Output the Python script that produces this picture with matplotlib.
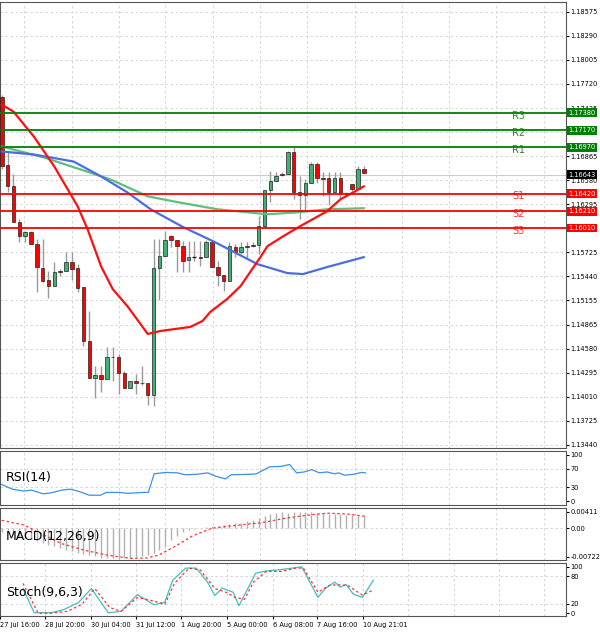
import matplotlib
matplotlib.use("Agg")
import matplotlib.pyplot as plt
import matplotlib.transforms as mtransforms
import numpy as np

# ---- candle data (open, high, low, close), hourly-ish bars
opens  = [1.17570, 1.16753, 1.16505, 1.16079, 1.15913, 1.15961, 1.15819, 1.15535, 1.15393, 1.15322,
          1.15499, 1.15499, 1.15606, 1.15535, 1.15310, 1.14671, 1.14233, 1.14269, 1.14222, 1.14482,
          1.14482, 1.14293, 1.14115, 1.14198, 1.14174, 1.14174, 1.14032, 1.15535, 1.15677, 1.15913,
          1.15866, 1.15795, 1.15629, 1.15665, 1.15665, 1.15665, 1.15842, 1.15547, 1.15452, 1.15381,
          1.15783, 1.15724, 1.15795, 1.15807, 1.15807, 1.16032, 1.16457, 1.16564, 1.16647, 1.16647,
          1.16907, 1.16434, 1.16398, 1.16540, 1.16765, 1.16599, 1.16599, 1.16434, 1.16599, 1.16422,
          1.16528, 1.16469, 1.16706]
highs  = [1.17593, 1.16907, 1.16647, 1.16114, 1.15972, 1.15972, 1.15878, 1.15878, 1.15499, 1.15606,
          1.15523, 1.15724, 1.15724, 1.15582, 1.15310, 1.15026, 1.14375, 1.14375, 1.14600, 1.14600,
          1.14517, 1.14316, 1.14198, 1.14281, 1.14375, 1.14174, 1.15878, 1.15878, 1.15972, 1.15925,
          1.15866, 1.15854, 1.15854, 1.15854, 1.15854, 1.15866, 1.15842, 1.15617, 1.15452, 1.15842,
          1.15819, 1.15842, 1.15842, 1.15842, 1.16150, 1.16457, 1.16682, 1.16670, 1.16670, 1.16930,
          1.16978, 1.16623, 1.16588, 1.16789, 1.16789, 1.16670, 1.16670, 1.16670, 1.16670, 1.16434,
          1.16528, 1.16741, 1.16741]
lows   = [1.16706, 1.16434, 1.16079, 1.15842, 1.15842, 1.15819, 1.15251, 1.15369, 1.15180, 1.15322,
          1.15440, 1.15499, 1.15393, 1.15251, 1.14612, 1.14233, 1.13997, 1.14068, 1.14222, 1.14198,
          1.14044, 1.14115, 1.14115, 1.14044, 1.14151, 1.13914, 1.13902, 1.15156, 1.15677, 1.15783,
          1.15487, 1.15487, 1.15487, 1.15617, 1.15558, 1.15665, 1.15547, 1.15322, 1.15263, 1.15381,
          1.15665, 1.15700, 1.15641, 1.15783, 1.15700, 1.16008, 1.16316, 1.16564, 1.16623, 1.16647,
          1.16351, 1.16114, 1.16197, 1.16540, 1.16540, 1.16387, 1.16280, 1.16434, 1.16363, 1.16410,
          1.16445, 1.16528, 1.16682]
closes = [1.16741, 1.16505, 1.16079, 1.15913, 1.15961, 1.15819, 1.15547, 1.15381, 1.15322, 1.15487,
          1.15490, 1.15606, 1.15523, 1.15298, 1.14671, 1.14233, 1.14269, 1.14222, 1.14482, 1.14478,
          1.14293, 1.14115, 1.14198, 1.14174, 1.14170, 1.14032, 1.15535, 1.15677, 1.15866, 1.15866,
          1.15795, 1.15617, 1.15665, 1.15662, 1.15660, 1.15842, 1.15547, 1.15452, 1.15381, 1.15795,
          1.15724, 1.15783, 1.15790, 1.15803, 1.16032, 1.16457, 1.16564, 1.16623, 1.16640, 1.16907,
          1.16434, 1.16398, 1.16540, 1.16765, 1.16599, 1.16595, 1.16434, 1.16599, 1.16422, 1.16418,
          1.16469, 1.16717, 1.16660]

ma_red_x = [0, 2, 5.5, 9, 13, 14.7, 17, 19, 21.5, 25, 27.2, 32.3, 34.4, 35.7, 38.6, 40.9,
            44.3, 45.5, 48.2, 51.1, 55.7, 58, 60.2, 62]
ma_red_y = [1.17475, 1.17392, 1.17096, 1.16741, 1.16268, 1.15996, 1.15558, 1.15286, 1.15085,
            1.14754, 1.14789, 1.14837, 1.14908, 1.15014, 1.15168, 1.15322, 1.15665, 1.15795,
            1.15913, 1.16032, 1.16209, 1.16351, 1.16434, 1.16505]
ma_green_x = [0, 7.2, 13.5, 18.6, 25, 29.4, 36.9, 45.5, 50.6, 55.7, 62]
ma_green_y = [1.16978, 1.16848, 1.16706, 1.16588, 1.16387, 1.16327, 1.16233, 1.16174, 1.16197,
              1.16233, 1.16245]
ma_blue_x = [0, 5.5, 12.3, 17, 21.5, 25.5, 31.1, 36.2, 43.8, 48.9, 51.6, 55.7, 62]
ma_blue_y = [1.16919, 1.16883, 1.16800, 1.16623, 1.16434, 1.16233, 1.16020, 1.15854, 1.15582,
             1.15476, 1.15464, 1.15547, 1.15665]

res_levels = [1.16970, 1.17170, 1.17380]
res_names = ["R1", "R2", "R3"]
sup_levels = [1.16420, 1.16210, 1.16010]
sup_names = ["S1", "S2", "S3"]
last_price = 1.16643

price_ticks = [1.13440, 1.13725, 1.14010, 1.14295, 1.14580, 1.14865, 1.15155, 1.15440, 1.15725,
               1.16010, 1.16295, 1.16580, 1.16865, 1.17150, 1.17435, 1.17720, 1.18005, 1.18290,
               1.18575]

time_pos = [-4.3, 3.8, 12.0, 20.0, 28.0, 36.2, 44.3, 52.3, 60.5]
time_labels = ["27 Jul 16:00", "28 Jul 20:00", "30 Jul 04:00", "31 Jul 12:00", "1 Aug 20:00",
               "5 Aug 00:00", "6 Aug 08:00", "7 Aug 16:00", "10 Aug 21:01"]

rsi_x = [0, 1.8, 3.8, 5.1, 7.1, 8.4, 10.3, 11.7, 13.0, 15.0, 16.9, 17.9, 20.2, 21.5, 24.2, 25.1,
         26.1, 28.1, 30.1, 31.4, 33.4, 35.3, 36.6, 38.3, 39.3, 42.6, 43.6, 45.9, 47.8, 49.3, 50.5,
         51.8, 53.1, 54.4, 55.7, 57.0, 57.7, 58.7, 60.3, 61.6, 62.3]
rsi_y = [36, 26, 22, 24, 16, 18, 24, 26, 22, 13, 13, 19, 19, 17, 19, 19, 59, 62, 61, 57, 58, 61,
         54, 48, 57, 58, 59, 74, 75, 79, 61, 63, 68, 61, 63, 59, 61, 56, 58, 62, 61]

macd_hist = [-0.0010, -0.0013, -0.0017, -0.0021, -0.0025, -0.0028, -0.0031, -0.0036, -0.0041,
             -0.0044, -0.0050, -0.0054, -0.0058, -0.0062, -0.0065, -0.0068, -0.0071, -0.0074,
             -0.0075, -0.0076, -0.0077, -0.0076, -0.0075, -0.0073, -0.0071, -0.0068, -0.0063,
             -0.0055, -0.0046, -0.0030, -0.0020, -0.0010, -0.0005, -0.0002, 0.0001, 0.0003,
             0.0005, 0.0006, 0.0008, 0.0010, 0.0012, 0.0014, 0.0017, 0.0022, 0.0027, 0.0032,
             0.0036, 0.0039, 0.0041, 0.0039, 0.0040, 0.0041, 0.0040, 0.0040, 0.0039, 0.0038,
             0.0037, 0.0036, 0.0035, 0.0034, 0.0033, 0.0032, 0.0030]
macd_sig_x = [0, 3.8, 6.4, 10.3, 14.3, 18.2, 22.2, 24.8, 26.8, 29.4, 32.7, 36, 39.3, 44.5, 48.5,
              52.4, 55.7, 59, 62.3]
macd_sig_y = [0.0020, 0.0008, -0.0011, -0.0039, -0.0056, -0.0068, -0.0076, -0.0075, -0.0068,
              -0.0048, -0.0019, 0.0, 0.0006, 0.0014, 0.0025, 0.0033, 0.0038, 0.0036, 0.0030]

stoch_x = [-0.2, 1.8, 4.8, 7.1, 9.7, 12.0, 15.0, 17.3, 20.2, 23.2, 25.1, 26.5, 28.8, 30.7, 32.7,
           34.0, 35.3, 37.3, 38.3, 41.3, 43.2, 45.2, 47.8, 49.5, 52.4, 53.7, 55.4, 56.4, 57.4,
           58.7, 60.3, 62.3]
stoch_main = [53, 1, 1, 8, 23, 53, 1, 4, 40, 18, 24, 71, 97, 97, 67, 38, 54, 45, 16, 86, 91, 93,
              97, 100, 34, 53, 67, 56, 62, 41, 34, 71]
stoch_sig_x = [-0.2, 2.5, 4.8, 7.7, 10.3, 12.6, 15.3, 17.3, 20.2, 22.8, 25.1, 26.8, 29.4, 31.4,
               34.0, 36.0, 37.6, 39.3, 40.9, 43.2, 45.9, 48.5, 49.8, 52.4, 54.4, 55.7, 57.7,
               60.3, 62.3]
stoch_sig = [64, 0, 0, 4, 19, 53, 12, 4, 34, 27, 19, 64, 97, 93, 53, 45, 34, 30, 67, 90, 90, 97,
             97, 45, 60, 61, 60, 39, 50]

X0, X1 = -0.3, 96.6
GRID = dict(color="#d0d0d0", linestyle=(0, (3, 3)), linewidth=0.6)
BULL, BEAR, WICK = "#3cb371", "#ff0000", "#9a9a9a"
FS = 4.8

fig = plt.figure(figsize=(6, 6.32), dpi=100)
W = 0.943


def panel(top, bottom):
    ax = fig.add_axes([0, 1 - bottom / 632, W, (bottom - top) / 632])
    ax.set_xlim(X0, X1)
    ax.yaxis.tick_right()
    ax.tick_params(axis="y", labelsize=FS, length=2, pad=1.5)
    ax.tick_params(axis="x", bottom=False, labelbottom=False)
    for s in ax.spines.values():
        s.set_color("#555555")
        s.set_linewidth(0.8)
    for t in time_pos[1:] + [68.5, 76.6, 84.7, 92.8]:
        ax.axvline(t, zorder=0, **GRID)
    return ax


# ---- main price panel
ax = panel(2, 448)
ax.set_ylim(1.1340, 1.18693)
ax.set_yticks(price_ticks)
ax.set_yticklabels(["%.5f" % p for p in price_ticks])
for p in price_ticks:
    ax.axhline(p, zorder=0, **GRID)

idx = np.arange(len(opens))
for i in idx:
    o, h, l, c = opens[i], highs[i], lows[i], closes[i]
    col = BULL if c >= o else BEAR
    ax.vlines(i, l, h, color=WICK, linewidth=1, zorder=2)
    body = abs(c - o)
    if body < 0.00004:
        ax.hlines(o, i - 0.35, i + 0.35, color="#222222", linewidth=1, zorder=3)
    else:
        ax.bar(i, body, bottom=min(o, c), width=0.6, color=col, edgecolor="#222222",
               linewidth=0.5, zorder=3)

ax.plot(ma_green_x, ma_green_y, color="#5fbf7a", linewidth=1.6, zorder=4)
ax.plot(ma_blue_x, ma_blue_y, color="#4a6ee0", linewidth=1.6, zorder=4)
ax.plot(ma_red_x, ma_red_y, color="#ff1010", linewidth=1.6, zorder=4)

ax.axhline(last_price, color="#cccccc", linewidth=0.8, zorder=1)
trans = mtransforms.blended_transform_factory(ax.transAxes, ax.transData)


def price_box(lv, fc):
    ax.text(1.004, lv, "%.5f" % lv, transform=trans, fontsize=FS, color="white", va="center",
            bbox=dict(boxstyle="square,pad=0.2", fc=fc, ec="none"), clip_on=False, zorder=6)


for lv, nm in zip(res_levels, res_names):
    ax.axhline(lv, color="#008000", linewidth=1.3, zorder=5)
    ax.text(88.5, lv - 0.00035, nm, color="#2e8b2e", fontsize=7, ha="center", va="center")
    price_box(lv, "#008000")
for lv, nm in zip(sup_levels, sup_names):
    ax.axhline(lv, color="#ff0000", linewidth=1.3, zorder=5)
    ax.text(88.5, lv - 0.00035, nm, color="#ff3030", fontsize=7, ha="center", va="center")
    price_box(lv, "#ff0000")
price_box(last_price, "#000000")

# ---- RSI
ax_rsi = panel(451, 505)
ax_rsi.set_ylim(-8, 108)
ax_rsi.set_yticks([0, 30, 70, 100])
for v in [30, 70]:
    ax_rsi.axhline(v, zorder=0, **GRID)
ax_rsi.plot(rsi_x, rsi_y, color="#3d8fe6", linewidth=0.9)
ax_rsi.text(0.01, 0.5, "RSI(14)", transform=ax_rsi.transAxes, fontsize=9, va="center")

# ---- MACD
ax_m = panel(508, 560)
ax_m.set_ylim(-0.0080, 0.0051)
ax_m.set_yticks([-0.00722, 0.0, 0.00411])
ax_m.set_yticklabels(["-0.00722", "0.00", "0.00411"])
ax_m.axhline(0, zorder=0, **GRID)
ax_m.vlines(idx, 0, macd_hist, color="#b0b0b0", linewidth=1)
ax_m.plot(macd_sig_x, macd_sig_y, color="#ff3030", linewidth=0.9, linestyle=(0, (2, 2)))
ax_m.text(0.01, 0.45, "MACD(12,26,9)", transform=ax_m.transAxes, fontsize=9, va="center")

# ---- Stochastic
ax_s = panel(563, 616)
ax_s.set_ylim(-6, 108)
ax_s.set_yticks([0, 20, 80, 100])
for v in [20, 80]:
    ax_s.axhline(v, zorder=0, **GRID)
ax_s.plot(stoch_x, stoch_main, color="#40c0c0", linewidth=0.9)
ax_s.plot(stoch_sig_x, stoch_sig, color="#ff3030", linewidth=0.9, linestyle=(0, (2, 2)))
ax_s.text(0.01, 0.45, "Stoch(9,6,3)", transform=ax_s.transAxes, fontsize=9, va="center")

ax_s.tick_params(axis="x", bottom=True, labelbottom=True, labelsize=FS, length=2, pad=2)
ax_s.set_xticks(time_pos)
ax_s.set_xticklabels(time_labels, ha="left")

fig.savefig("out.png", dpi=100)
